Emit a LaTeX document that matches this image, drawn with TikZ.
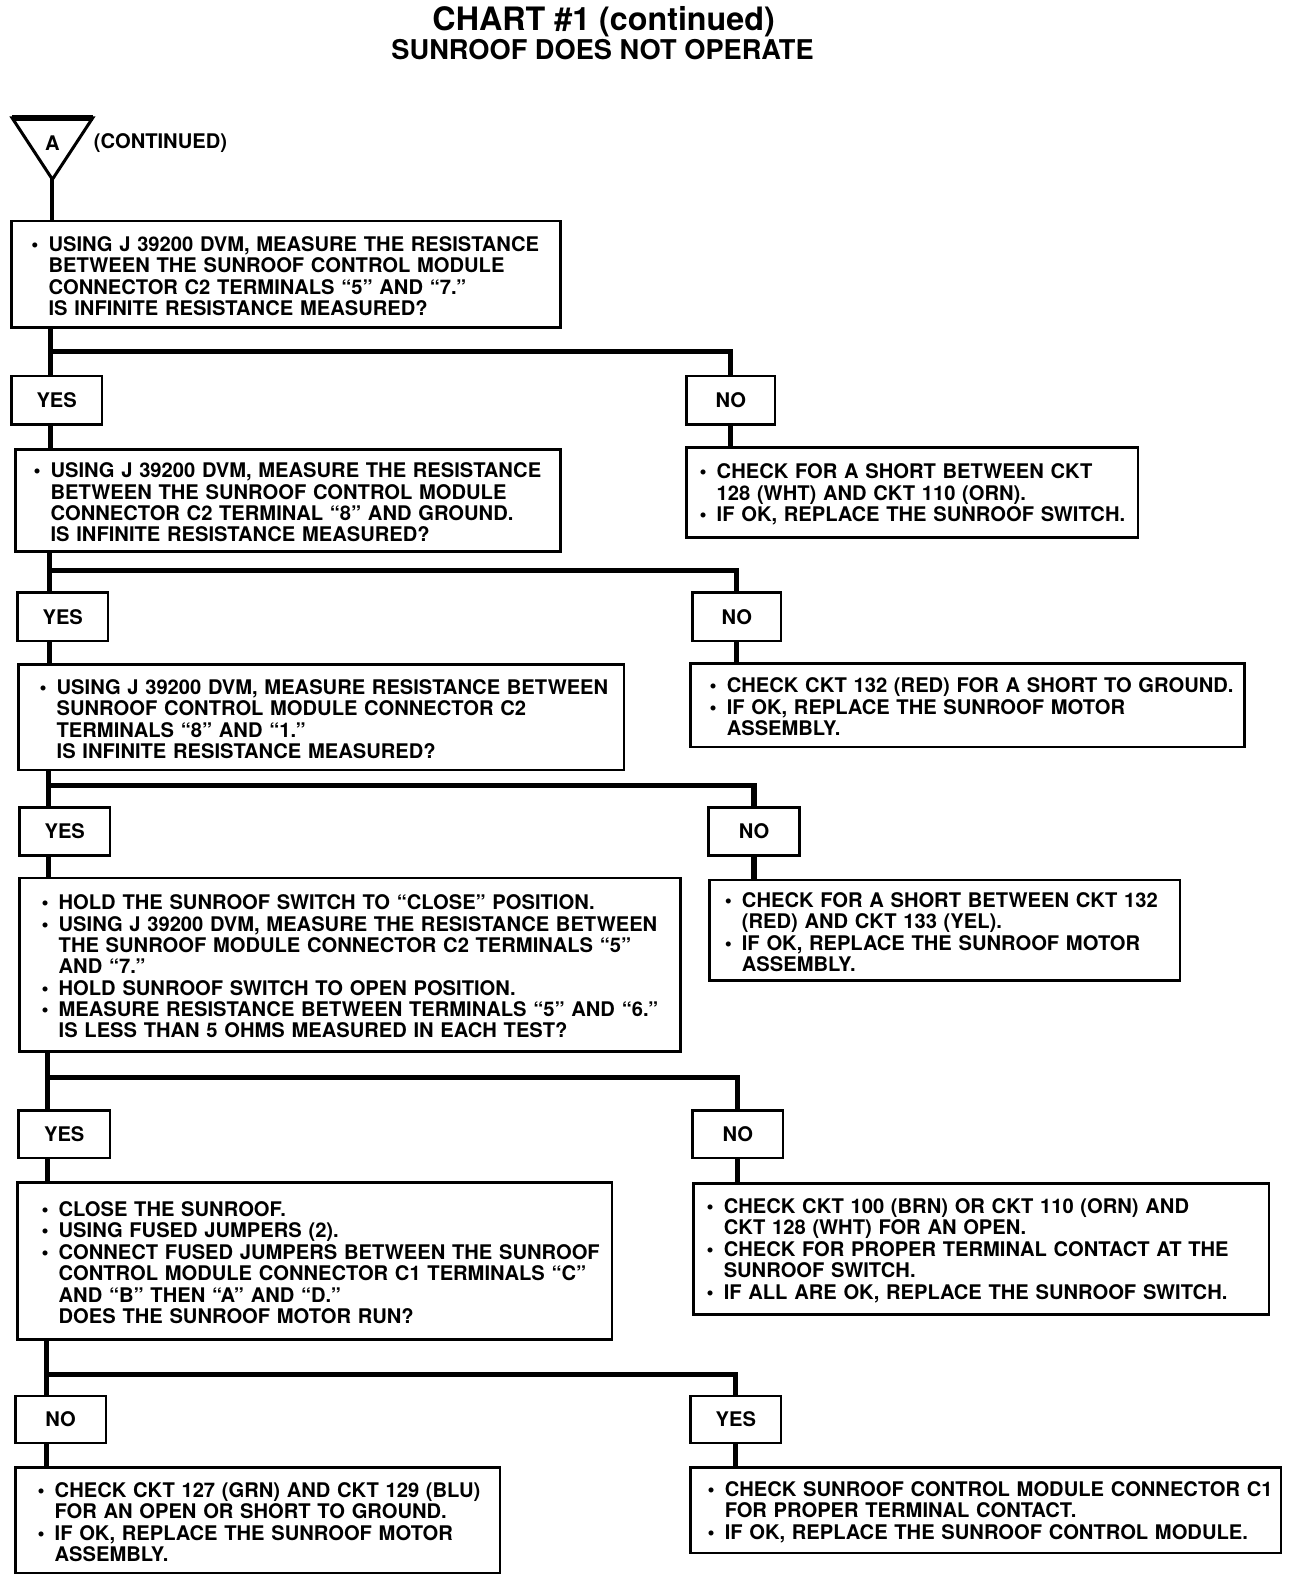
\documentclass[tikz,border=0pt]{standalone}
\usepackage{fontspec}
\setmainfont{TeX Gyre Heros}
\usetikzlibrary{calc}
\newcommand\Lb[1]{\makebox[17pt][l]{\textbullet}\mbox{#1}}
\newcommand\Lc[1]{\hspace*{17pt}\mbox{#1}}
\tikzset{
  boxst/.style={draw, line width=2.5pt, rectangle, inner ysep=0pt, anchor=north west,
    font=\bfseries\fontsize{20}{21.2}\selectfont, align=left},
  lblst/.style={draw, line width=2.5pt, rectangle, inner sep=0pt, anchor=north west,
    font=\bfseries\fontsize{20}{24}\selectfont, align=center},
  conn/.style={line width=5pt},
  txt/.style={font=\bfseries\fontsize{20}{24}\selectfont, inner sep=0pt},
}
% name, x, y, width, height, pad, textwidth, content
\newcommand\Bx[8]{\node[boxst, minimum width=#4pt, minimum height=#5pt, inner xsep=#6pt, text width=#7pt] (#1) at (#2,#3) {\rule{0pt}{18.5pt}#8};}
\newcommand\Lbl[6]{\node[lblst, minimum width=#4pt, minimum height=#5pt] (#1) at (#2,#3) {#6};}
\begin{document}
\begin{tikzpicture}[x=1pt,y=-1pt]
\useasboundingbox (0,0) rectangle (1286,1568);

% titles
\node[font=\bfseries\fontsize{32}{36}\selectfont, anchor=base, inner sep=0pt] (title) at (599,30) {CHART \#1 (continued)};
\node[font=\bfseries\fontsize{27}{30}\selectfont, anchor=base, inner sep=0pt] (sub) at (598,59) {SUNROOF DOES NOT OPERATE};

% off-page connector triangle
\coordinate (tl) at (12,117);
\coordinate (tr) at (92,117);
\coordinate (apex) at (52,178);
\draw[line width=3pt, line join=miter] (tl) -- (tr) -- (apex) -- cycle;
\draw[line width=6pt] (tl) -- (tr);
\node[txt] (A) at (52,142) {A};
\node[txt, anchor=west] (cont) at (93,142) {(CONTINUED)};

% level 1
\Bx{box1}{10}{218}{545}{106}{20}{505}{\Lb{USING J 39200 DVM, MEASURE THE RESISTANCE}\\
\Lc{BETWEEN THE SUNROOF CONTROL MODULE}\\
\Lc{CONNECTOR C2 TERMINALS “5” AND “7.”}\\
\Lc{IS INFINITE RESISTANCE MEASURED?}}
\Lbl{yes1}{10}{372}{90}{48}{YES}
\Lbl{no1}{680}{372}{88}{48}{NO}
\Bx{r1}{680}{443}{448}{89}{13}{422}{\Lb{CHECK FOR A SHORT BETWEEN CKT}\\
\Lc{128 (WHT) AND CKT 110 (ORN).}\\
\Lb{IF OK, REPLACE THE SUNROOF SWITCH.}}

% level 2
\Bx{box2}{14}{445}{541}{101}{18}{505}{\Lb{USING J 39200 DVM, MEASURE THE RESISTANCE}\\
\Lc{BETWEEN THE SUNROOF CONTROL MODULE}\\
\Lc{CONNECTOR C2 TERMINAL “8” AND GROUND.}\\
\Lc{IS INFINITE RESISTANCE MEASURED?}}
\Lbl{yes2}{16}{587}{90}{48}{YES}
\Lbl{no2}{686}{587}{88}{48}{NO}
\Bx{r2}{684}{657}{550}{83}{19}{512}{\Lb{CHECK CKT 132 (RED) FOR A SHORT TO GROUND.}\\
\Lb{IF OK, REPLACE THE SUNROOF MOTOR}\\
\Lc{ASSEMBLY.}}

% level 3
\Bx{box3}{17}{658}{601}{105}{21}{559}{\Lb{USING J 39200 DVM, MEASURE RESISTANCE BETWEEN}\\
\Lc{SUNROOF CONTROL MODULE CONNECTOR C2}\\
\Lc{TERMINALS “8” AND “1.”}\\
\Lc{IS INFINITE RESISTANCE MEASURED?}}
\Lbl{yes3}{18}{800}{90}{48}{YES}
\Lbl{no3}{702}{800}{90}{48}{NO}
\Bx{r3}{703}{872}{467}{100}{15}{437}{\Lb{CHECK FOR A SHORT BETWEEN CKT 132}\\
\Lc{(RED) AND CKT 133 (YEL).}\\
\Lb{IF OK, REPLACE THE SUNROOF MOTOR}\\
\Lc{ASSEMBLY.}}

% level 4
\Bx{box4}{18}{870}{656}{172}{22}{612}{\Lb{HOLD THE SUNROOF SWITCH TO “CLOSE” POSITION.}\\
\Lb{USING J 39200 DVM, MEASURE THE RESISTANCE BETWEEN}\\
\Lc{THE SUNROOF MODULE CONNECTOR C2 TERMINALS “5”}\\
\Lc{AND “7.”}\\
\Lb{HOLD SUNROOF SWITCH TO OPEN POSITION.}\\
\Lb{MEASURE RESISTANCE BETWEEN TERMINALS “5” AND “6.”}\\
\Lc{IS LESS THAN 5 OHMS MEASURED IN EACH TEST?}}
\Lbl{yes4}{17}{1101}{91}{47}{YES}
\Lbl{no4}{686}{1101}{90}{47}{NO}
\Bx{r4}{687}{1173}{571}{130}{13}{545}{\Lb{CHECK CKT 100 (BRN) OR CKT 110 (ORN) AND}\\
\Lc{CKT 128 (WHT) FOR AN OPEN.}\\
\Lb{CHECK FOR PROPER TERMINAL CONTACT AT THE}\\
\Lc{SUNROOF SWITCH.}\\
\Lb{IF ALL ARE OK, REPLACE THE SUNROOF SWITCH.}}

% level 5
\Bx{box5}{16}{1172}{590}{156}{24}{542}{\Lb{CLOSE THE SUNROOF.}\\
\Lb{USING FUSED JUMPERS (2).}\\
\Lb{CONNECT FUSED JUMPERS BETWEEN THE SUNROOF}\\
\Lc{CONTROL MODULE CONNECTOR C1 TERMINALS “C”}\\
\Lc{AND “B” THEN “A” AND “D.”}\\
\Lc{DOES THE SUNROOF MOTOR RUN?}}
\Lbl{no5}{14}{1384}{90}{47}{NO}
\Lbl{yes5}{684}{1384}{90}{47}{YES}
\Bx{box6}{14}{1455}{481}{105}{22}{437}{\Lb{CHECK CKT 127 (GRN) AND CKT 129 (BLU)}\\
\Lc{FOR AN OPEN OR SHORT TO GROUND.}\\
\Lb{IF OK, REPLACE THE SUNROOF MOTOR}\\
\Lc{ASSEMBLY.}}
\Bx{r6}{684}{1455}{586}{85}{17}{552}{\Lb{CHECK SUNROOF CONTROL MODULE CONNECTOR C1}\\
\Lc{FOR PROPER TERMINAL CONTACT.}\\
\Lb{IF OK, REPLACE THE SUNROOF CONTROL MODULE.}}

% connectors
\draw[line width=4pt] (apex) -- (box1.north -| apex);

\coordinate (j1) at (50,349);
\draw[conn] (box1.south -| j1) -- (yes1.north -| j1);
\draw[conn] (j1) -| (no1.north);
\draw[conn] (yes1.south -| j1) -- (box2.north -| j1);
\draw[conn] (no1.south) -- (no1.south |- r1.north);

\coordinate (j2) at (49,566);
\draw[conn] (box2.south -| j2) -- (yes2.north -| j2);
\draw[conn] (j2) -| (no2.north);
\draw[conn] (yes2.south -| j2) -- (box3.north -| j2);
\draw[conn] (no2.south) -- (no2.south |- r2.north);

\coordinate (j3) at (48,780);
\draw[conn] (box3.south -| j3) -- (yes3.north -| j3);
\draw[conn] (j3) -| (no3.north);
\draw[conn] (yes3.south -| j3) -- (box4.north -| j3);
\draw[conn] (no3.south) -- (no3.south |- r3.north);

\coordinate (j4) at (47,1069);
\draw[conn] (box4.south -| j4) -- (yes4.north -| j4);
\draw[conn] (j4) -| (no4.north);
\draw[conn] (yes4.south -| j4) -- (box5.north -| j4);
\draw[conn] (no4.south) -- (no4.south |- r4.north);

\coordinate (j5) at (46,1364);
\draw[conn] (box5.south -| j5) -- (no5.north -| j5);
\draw[conn] (j5) -| (yes5.north);
\draw[conn] (no5.south -| j5) -- (box6.north -| j5);
\draw[conn] (yes5.south) -- (yes5.south |- r6.north);
\end{tikzpicture}
\end{document}
